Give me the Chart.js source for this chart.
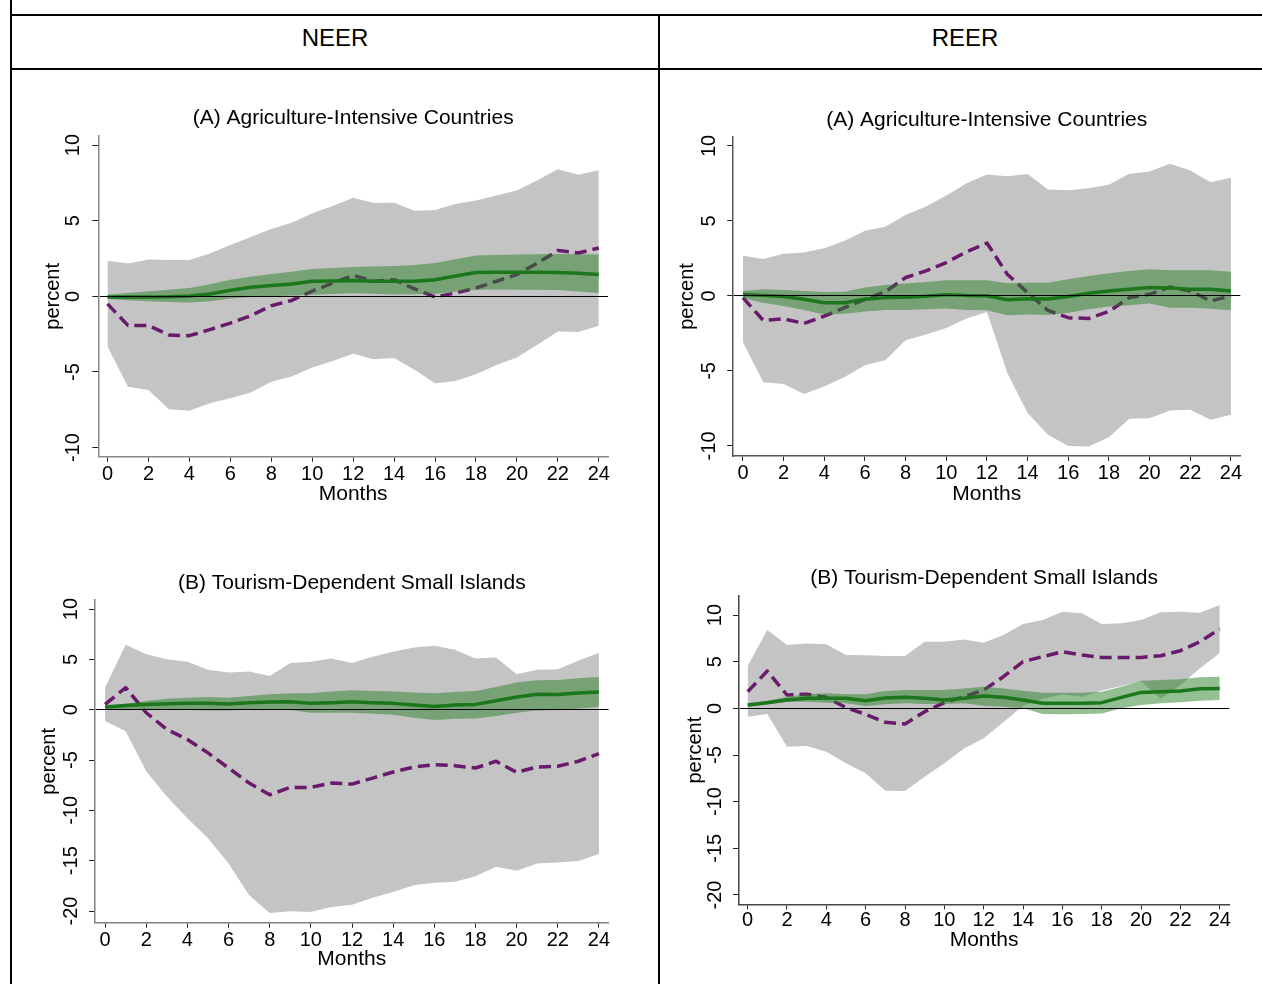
<!DOCTYPE html>
<html>
<head>
<meta charset="utf-8">
<script src="https://cdn.jsdelivr.net/npm/chart.js@4.4.1/dist/chart.umd.min.js"></script>
<style>
  html, body { margin: 0; padding: 0; background: #fff; width: 1262px; height: 984px; overflow: hidden; }
  body { position: relative; font-family: 'Liberation Sans', Arial, Helvetica, sans-serif; }
  .rule { position: absolute; background: #000; }
  .head { position: absolute; font-size: 24px; line-height: 28px; color: #000; text-align: center; }
  canvas { position: absolute; }
</style>
</head>
<body>
<div class="rule" style="left:10px;top:0;width:2px;height:984px"></div>
<div class="rule" style="left:10px;top:14px;width:1252px;height:2px"></div>
<div class="rule" style="left:10px;top:68px;width:1252px;height:2px"></div>
<div class="rule" style="left:658px;top:14px;width:2px;height:970px"></div>
<div class="head" style="left:12px;width:646px;top:24px">NEER</div>
<div class="head" style="left:660px;width:610px;top:24px">REER</div>

<canvas id="neerAgr"></canvas>
<canvas id="reerAgr"></canvas>
<canvas id="neerTour"></canvas>
<canvas id="reerTour"></canvas>

<script>
// Horizon (months after the shock) and axis tick labels
const months = [0, 1, 2, 3, 4, 5, 6, 7, 8, 9, 10, 11, 12, 13, 14, 15, 16, 17, 18, 19, 20, 21, 22, 23, 24];
const monthTicks = [0, 2, 4, 6, 8, 10, 12, 14, 16, 18, 20, 22, 24];
const pctTicksAgr = [-10, -5, 0, 5, 10];
const pctTicksTour = [-20, -15, -10, -5, 0, 5, 10];

// NEER, agriculture-intensive countries
const neerAgrUpper = [2.36, 2.17, 2.43, 2.4, 2.4, 2.83, 3.4, 3.93, 4.46, 4.86, 5.5, 5.97, 6.52, 6.17, 6.19, 5.66, 5.7, 6.1, 6.34, 6.67, 7.0, 7.67, 8.4, 8.04, 8.33];
const neerAgrLower = [-3.31, -5.97, -6.19, -7.47, -7.56, -7.07, -6.74, -6.36, -5.64, -5.3, -4.7, -4.27, -3.8, -4.15, -4.07, -4.86, -5.75, -5.59, -5.15, -4.53, -4.04, -3.2, -2.32, -2.36, -1.94];
const neerAgrResponse = [-0.5, -1.92, -1.92, -2.56, -2.6, -2.2, -1.77, -1.28, -0.62, -0.27, 0.35, 0.88, 1.39, 1.0, 1.1, 0.49, -0.04, 0.22, 0.55, 1.0, 1.44, 2.2, 3.03, 2.87, 3.2];
const neerAgrBaseUpper = [0.1, 0.22, 0.33, 0.44, 0.55, 0.8, 1.1, 1.3, 1.48, 1.62, 1.8, 1.87, 1.94, 1.97, 2.0, 2.07, 2.2, 2.45, 2.7, 2.73, 2.76, 2.78, 2.8, 2.78, 2.76];
const neerAgrBaseLower = [-0.18, -0.25, -0.33, -0.37, -0.4, -0.33, -0.15, -0.05, 0.0, 0.05, 0.1, 0.15, 0.2, 0.17, 0.13, 0.14, 0.15, 0.3, 0.44, 0.45, 0.44, 0.43, 0.42, 0.32, 0.22];
const neerAgrBase = [-0.05, -0.05, -0.04, -0.03, 0.03, 0.15, 0.4, 0.6, 0.72, 0.82, 1.0, 1.02, 1.05, 1.0, 1.0, 1.0, 1.1, 1.35, 1.58, 1.6, 1.6, 1.6, 1.58, 1.52, 1.45];

// REER, agriculture-intensive countries
const reerAgrUpper = [2.68, 2.46, 2.81, 2.9, 3.19, 3.68, 4.35, 4.62, 5.4, 5.96, 6.7, 7.52, 8.1, 7.99, 8.13, 7.1, 7.05, 7.19, 7.41, 8.15, 8.3, 8.82, 8.37, 7.59, 7.88];
const reerAgrLower = [-3.08, -5.76, -5.87, -6.54, -6.03, -5.4, -4.62, -4.29, -2.95, -2.57, -2.14, -1.5, -1.07, -5.13, -7.81, -9.26, -10.0, -10.04, -9.42, -8.19, -8.15, -7.63, -7.59, -8.26, -7.92];
const reerAgrResponse = [-0.11, -1.63, -1.52, -1.83, -1.34, -0.78, -0.22, 0.27, 1.23, 1.67, 2.23, 2.95, 3.53, 1.45, 0.22, -0.96, -1.45, -1.5, -1.03, -0.11, 0.11, 0.6, 0.33, -0.33, 0.0];
const reerAgrBaseUpper = [0.33, 0.45, 0.4, 0.33, 0.27, 0.29, 0.56, 0.74, 0.83, 0.94, 1.05, 1.05, 1.05, 0.85, 0.89, 0.89, 1.12, 1.34, 1.52, 1.67, 1.79, 1.72, 1.72, 1.72, 1.61];
const reerAgrBaseLower = [-0.16, -0.45, -0.67, -0.94, -1.23, -1.18, -1.03, -0.94, -0.94, -0.89, -0.83, -0.94, -0.96, -1.29, -1.23, -1.27, -1.12, -0.89, -0.71, -0.62, -0.51, -0.78, -0.78, -0.85, -0.96];
const reerAgrBase = [0.1, 0.04, -0.04, -0.22, -0.45, -0.45, -0.22, -0.11, -0.09, -0.02, 0.09, 0.04, 0.02, -0.25, -0.18, -0.2, -0.04, 0.18, 0.33, 0.45, 0.56, 0.54, 0.45, 0.45, 0.33];

// NEER, tourism-dependent small islands
const neerTourUpper = [2.2, 6.46, 5.52, 5.02, 4.76, 3.96, 3.69, 3.79, 3.36, 4.63, 4.76, 5.09, 4.63, 5.26, 5.76, 6.19, 6.36, 5.96, 5.09, 5.19, 3.53, 3.96, 4.03, 4.86, 5.66];
const neerTourLower = [-1.13, -2.13, -6.12, -8.62, -10.78, -12.78, -15.27, -18.44, -20.2, -20.03, -20.1, -19.6, -19.37, -18.67, -18.1, -17.44, -17.2, -17.1, -16.54, -15.61, -16.0, -15.27, -15.17, -15.04, -14.34];
const neerTourResponse = [0.53, 2.2, -0.3, -1.96, -2.96, -4.29, -5.79, -7.29, -8.45, -7.72, -7.72, -7.29, -7.39, -6.79, -6.19, -5.69, -5.46, -5.56, -5.79, -5.12, -6.22, -5.69, -5.62, -5.12, -4.36];
const neerTourBaseUpper = [0.37, 0.6, 0.87, 1.1, 1.2, 1.26, 1.2, 1.36, 1.53, 1.63, 1.63, 1.8, 1.93, 1.86, 1.8, 1.7, 1.63, 1.76, 1.86, 2.26, 2.7, 2.93, 2.96, 3.13, 3.26];
const neerTourBaseLower = [0.03, -0.03, -0.03, 0.0, -0.03, -0.07, -0.07, 0.0, 0.03, -0.03, -0.3, -0.3, -0.3, -0.4, -0.5, -0.8, -1.03, -0.9, -0.87, -0.63, -0.3, -0.07, -0.03, 0.13, 0.27];
const neerTourBase = [0.27, 0.43, 0.53, 0.6, 0.63, 0.63, 0.57, 0.7, 0.77, 0.8, 0.63, 0.7, 0.8, 0.7, 0.63, 0.47, 0.33, 0.47, 0.53, 0.9, 1.26, 1.53, 1.5, 1.66, 1.76];

// REER, tourism-dependent small islands
const reerTourUpper = [4.54, 8.39, 6.79, 6.96, 6.86, 5.71, 5.68, 5.61, 5.61, 7.14, 7.14, 7.39, 7.04, 7.86, 9.04, 9.46, 10.36, 10.18, 9.04, 9.11, 9.46, 10.29, 10.36, 10.25, 11.07];
const reerTourLower = [-0.89, -0.61, -4.11, -4.04, -4.64, -5.89, -6.96, -8.82, -8.86, -7.32, -5.89, -4.29, -3.21, -1.5, 0.29, 1.0, 1.5, 1.25, 1.9, 2.4, 2.9, 1.04, 2.5, 4.3, 5.93];
const reerTourResponse = [1.79, 4.0, 1.43, 1.5, 1.18, 0.07, -0.64, -1.5, -1.68, -0.36, 0.61, 1.25, 1.96, 3.39, 5.0, 5.54, 6.07, 5.71, 5.46, 5.46, 5.46, 5.64, 6.18, 7.14, 8.5];
const reerTourBaseUpper = [0.54, 0.82, 1.25, 1.5, 1.61, 1.5, 1.5, 1.86, 1.96, 1.96, 1.96, 2.14, 2.32, 2.14, 1.89, 1.68, 1.68, 1.68, 1.79, 2.32, 2.96, 3.04, 3.11, 3.32, 3.39];
const reerTourBaseLower = [0.18, 0.46, 0.71, 0.71, 0.61, 0.54, 0.25, 0.43, 0.54, 0.46, 0.46, 0.54, 0.29, 0.18, 0.0, -0.61, -0.64, -0.61, -0.54, 0.0, 0.36, 0.54, 0.64, 0.82, 0.89];
const reerTourBase = [0.36, 0.61, 0.89, 1.07, 1.07, 1.07, 0.82, 1.1, 1.18, 1.07, 0.89, 1.07, 1.32, 1.18, 0.89, 0.54, 0.54, 0.54, 0.61, 1.18, 1.71, 1.79, 1.86, 2.11, 2.14];

const FONT = "'Liberation Sans', Arial, Helvetica, sans-serif";
const GRAY_BAND = '#c4c4c4';
const GREEN_BAND = 'rgba(40,128,40,0.5)';
const GREEN_LINE = '#1c761c';
const PURPLE = '#6a1a6b';
const NONE = 'rgba(0,0,0,0)';

Chart.defaults.font.family = FONT;

function widestLabel(labels, size) {
  const c = document.createElement('canvas').getContext('2d');
  c.font = size + 'px ' + FONT;
  return Math.max(...labels.map(t => c.measureText(t).width));
}

// One impulse-response panel; L/R/T/B give the plot box on the page
function panel(p) {
  const TICK = 20, TITLE = 21, XTITLE = 21, YTITLE = 20;
  const lhTitle = TITLE * 1.2, lhX = XTITLE * 1.2, lhY = YTITLE * 1.2, lhTick = TICK * 1.2;
  const x0 = Math.floor(p.L - 80), y0 = Math.floor(p.titleY - 26);
  const W = Math.ceil(p.R + 20) - x0, H = Math.ceil(p.monthsY + 22) - y0;

  const cv = document.getElementById(p.id);
  cv.width = W; cv.height = H;
  cv.style.left = x0 + 'px'; cv.style.top = y0 + 'px';
  cv.style.width = W + 'px'; cv.style.height = H + 'px';

  const yScaleLeft = p.yTitleX - lhY / 2;
  const yWidth = p.L - yScaleLeft;
  const xHeight = p.monthsY + lhX / 2 - p.B;
  const yPad = p.L - 6 - widestLabel(p.yTicks.map(String), TICK) / 2 - p.yTickX;
  const xPad = p.xTickY - p.B - 5 - lhTick / 2;

  const hidden = { borderColor: NONE, borderWidth: 0, pointRadius: 0, fill: false };
  const datasets = [
    Object.assign({ data: p.lower, order: 5 }, hidden),
    Object.assign({}, hidden, { data: p.upper, order: 4, fill: { target: 0 }, backgroundColor: GRAY_BAND }),
    { data: p.response, order: 3, borderColor: PURPLE, borderWidth: 3.5, borderDash: [12, 6],
      borderJoinStyle: 'round', pointRadius: 0, fill: false },
    Object.assign({ data: p.baseLower, order: 2 }, hidden),
    Object.assign({}, hidden, { data: p.baseUpper, order: 1, fill: { target: 3 }, backgroundColor: GREEN_BAND }),
    { data: p.base, order: 0, borderColor: GREEN_LINE, borderWidth: 3.5, borderJoinStyle: 'round',
      pointRadius: 0, fill: false }
  ];

  new Chart(cv, {
    type: 'line',
    data: { labels: months, datasets },
    options: {
      responsive: false,
      animation: false,
      devicePixelRatio: 1,
      events: [],
      layout: { padding: { left: yScaleLeft - x0, right: x0 + W - p.R, top: 0, bottom: y0 + H - (p.B + xHeight) } },
      plugins: {
        legend: { display: false },
        tooltip: { enabled: false },
        filler: { drawTime: 'beforeDatasetDraw' },
        title: {
          display: true, text: p.title, fullSize: false, color: '#000',
          font: { size: TITLE, weight: 'normal', family: FONT },
          padding: { top: p.titleY - lhTitle / 2 - y0, bottom: p.T - p.titleY - lhTitle / 2 }
        }
      },
      scales: {
        x: {
          type: 'linear', min: p.xMin, max: p.xMax,
          afterBuildTicks: s => { s.ticks = monthTicks.map(v => ({ value: v })); },
          afterFit: s => { s.height = xHeight; },
          ticks: { autoSkip: false, minRotation: 0, maxRotation: 0, padding: xPad, color: '#000',
                   font: { size: TICK, family: FONT }, callback: v => String(v) },
          grid: { drawOnChartArea: false, drawTicks: true, tickLength: 5, tickColor: '#222', tickWidth: 1 },
          border: { display: true, color: p.axisColor, width: 1.5 },
          title: { display: true, text: 'Months', color: '#000', font: { size: XTITLE, family: FONT },
                   padding: { top: 0, bottom: 0 } }
        },
        y: {
          type: 'linear', min: p.yMin, max: p.yMax,
          afterBuildTicks: s => { s.ticks = p.yTicks.map(v => ({ value: v })); },
          afterFit: s => { s.width = yWidth; },
          ticks: { autoSkip: false, minRotation: 90, maxRotation: 90, crossAlign: 'center', padding: yPad,
                   color: '#000', font: { size: TICK, family: FONT }, callback: v => String(v) },
          // zero reference line sits above the bands, so grid and axis line share the upper layer
          grid: {
            z: 1, drawOnChartArea: true, drawTicks: true, tickLength: 6, lineWidth: 1,
            color: c => (c.tick && c.tick.value === 0 ? '#000' : NONE),
            tickColor: '#222', tickWidth: 1
          },
          border: { display: true, color: p.axisColor, width: 1.5, z: 1 },
          title: { display: true, text: 'percent', color: '#000', font: { size: YTITLE, family: FONT },
                   padding: { top: 0, bottom: 0 } }
        }
      }
    }
  });
}

panel({
  id: 'neerAgr', title: '(A) Agriculture-Intensive Countries',
  L: 98.3, R: 608, T: 136, B: 456.7, xMin: -0.45, xMax: 24.45, yMin: -10.6, yMax: 10.6, yTicks: pctTicksAgr,
  titleY: 118, yTickX: 73.5, yTitleX: 53, xTickY: 474.7, monthsY: 494.5, axisColor: '#8a8a8a',
  upper: neerAgrUpper, lower: neerAgrLower, response: neerAgrResponse,
  baseUpper: neerAgrBaseUpper, baseLower: neerAgrBaseLower, base: neerAgrBase
});

panel({
  id: 'reerAgr', title: '(A) Agriculture-Intensive Countries',
  L: 733.2, R: 1240.3, T: 137, B: 456, xMin: -0.48, xMax: 24.46, yMin: -10.67, yMax: 10.6, yTicks: pctTicksAgr,
  titleY: 120, yTickX: 709.5, yTitleX: 687.5, xTickY: 473.5, monthsY: 494, axisColor: '#555',
  upper: reerAgrUpper, lower: reerAgrLower, response: reerAgrResponse,
  baseUpper: reerAgrBaseUpper, baseLower: reerAgrBaseLower, base: reerAgrBase
});

panel({
  id: 'neerTour', title: '(B) Tourism-Dependent Small Islands',
  L: 95, R: 608.6, T: 600, B: 922.7, xMin: -0.49, xMax: 24.47, yMin: -21.16, yMax: 10.9, yTicks: pctTicksTour,
  titleY: 583, yTickX: 71.3, yTitleX: 49, xTickY: 940, monthsY: 959.5, axisColor: '#808080',
  upper: neerTourUpper, lower: neerTourLower, response: neerTourResponse,
  baseUpper: neerTourBaseUpper, baseLower: neerTourBaseLower, base: neerTourBase
});

panel({
  id: 'reerTour', title: '(B) Tourism-Dependent Small Islands',
  L: 739, R: 1229.2, T: 596, B: 904.3, xMin: -0.44, xMax: 24.48, yMin: -21.0, yMax: 12.04, yTicks: pctTicksTour,
  titleY: 578, yTickX: 715, yTitleX: 695, xTickY: 920.7, monthsY: 940.3, axisColor: '#444',
  upper: reerTourUpper, lower: reerTourLower, response: reerTourResponse,
  baseUpper: reerTourBaseUpper, baseLower: reerTourBaseLower, base: reerTourBase
});
</script>
</body>
</html>
